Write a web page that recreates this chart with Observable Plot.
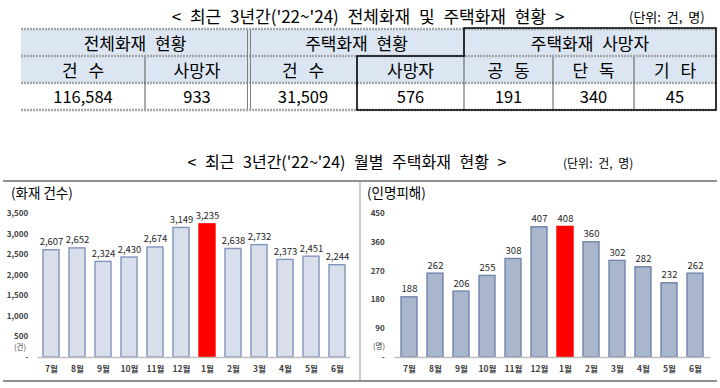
<!DOCTYPE html>
<html><head><meta charset="utf-8">
<script src="https://cdn.jsdelivr.net/npm/d3@7"></script>
<script src="https://cdn.jsdelivr.net/npm/@observablehq/plot@0.6"></script>
<style>
body{margin:0;width:720px;height:388px;position:relative;overflow:hidden;background:#fff;font-family:"Noto Sans CJK KR","Noto Sans",sans-serif;color:#000}
.t{position:absolute;white-space:nowrap;line-height:1}
.cell{position:absolute;display:flex;align-items:center;justify-content:center;font-size:16px;line-height:1;white-space:nowrap}
.chart{position:absolute;top:181px}
</style></head><body>
<script>
// ---- data ----
const months = ["7월","8월","9월","10월","11월","12월","1월","2월","3월","4월","5월","6월"];
const fireCounts = [2607,2652,2324,2430,2674,3149,3235,2638,2732,2373,2451,2244];
const casualties = [188,262,206,255,308,407,408,360,302,282,232,262];
const highlightMonth = "1월";
const countTicks = [0,500,1000,1500,2000,2500,3000,3500];
const casualtyTicks = [0,90,180,270,360,450];
const tableGroups = ["전체화재 현황","주택화재 현황","주택화재 사망자"];
const tableSubHeads = ["건 수","사망자","건 수","사망자","공 동","단 독","기 타"];
const tableValues = [116584,933,31509,576,191,340,45];

const fmt = d3.format(",");
const body = document.body;
function addText(txt, css, cls="t"){const d=document.createElement("div");d.className=cls;d.textContent=txt;Object.assign(d.style,css);body.appendChild(d);return d;}

// ---- titles ----
addText("< 최근 3년간('22~'24) 전체화재 및 주택화재 현황 >",{left:"368px",top:"15px",transform:"translate(-50%,-50%)",fontSize:"17px",wordSpacing:"5px"});
addText("(단위: 건, 명)",{left:"629px",top:"16px",transform:"translateY(-50%)",fontSize:"13px",wordSpacing:"3px"});

// ---- table ----
const colX=[21,145,249,357,464,553,634,716];
const rowY=[29,56,83,110];
const groupSpan=[[0,2],[2,4],[4,7]];
const ns="http://www.w3.org/2000/svg";
const tsvg=document.createElementNS(ns,"svg");
tsvg.setAttribute("width",720);tsvg.setAttribute("height",120);
Object.assign(tsvg.style,{position:"absolute",left:"0",top:"0"});
function el(name,attrs){const e=document.createElementNS(ns,name);for(const k in attrs)e.setAttribute(k,attrs[k]);tsvg.appendChild(e);return e;}
el("rect",{x:colX[0],y:rowY[0],width:colX[7]-colX[0],height:rowY[2]-rowY[0],fill:"#dce6f2"});
rowY.forEach(y=>el("line",{x1:colX[0],x2:colX[7],y1:y,y2:y,stroke:"#a6a6a6","stroke-width":2.5,"stroke-dasharray":"2,1"}));
[247.5,250.5].forEach(x=>el("line",{x1:x,x2:x,y1:rowY[0]+1,y2:rowY[3]-1,stroke:"#7f7f7f","stroke-width":1}));
[145,553,634].forEach(x=>el("line",{x1:x,x2:x,y1:rowY[1]+1,y2:rowY[3]-1,stroke:"#595959","stroke-width":1}));
el("line",{x1:464,x2:464,y1:rowY[1],y2:rowY[3],stroke:"#595959","stroke-width":1});
el("path",{d:`M464,28H716V110H357V56H464Z`,fill:"none",stroke:"#000","stroke-width":1.6});
body.appendChild(tsvg);
groupSpan.forEach(([a,b],i)=>addText(tableGroups[i],{left:colX[a]+"px",width:(colX[b]-colX[a])+"px",top:rowY[0]+"px",height:(rowY[1]-rowY[0])+"px",fontSize:"17px",wordSpacing:"5px"},"cell"));
tableSubHeads.forEach((s,i)=>addText(s,{left:colX[i]+"px",width:(colX[i+1]-colX[i])+"px",top:rowY[1]+"px",height:(rowY[2]-rowY[1])+"px",fontSize:"17px",wordSpacing:"7px"},"cell"));
tableValues.forEach((v,i)=>addText(fmt(v),{left:colX[i]+"px",width:(colX[i+1]-colX[i])+"px",top:rowY[2]+"px",height:(rowY[3]-rowY[2])+"px",fontSize:"16.5px"},"cell"));

// ---- second title ----
addText("< 최근 3년간('22~'24) 월별 주택화재 현황 >",{left:"347px",top:"161px",transform:"translate(-50%,-50%)",fontSize:"16px",wordSpacing:"5px"});
addText("(단위: 건, 명)",{left:"563px",top:"163px",transform:"translateY(-50%)",fontSize:"12px",wordSpacing:"3px"});

// ---- panel frame ----
const fsvg=document.createElementNS(ns,"svg");
fsvg.setAttribute("width",720);fsvg.setAttribute("height",388);
Object.assign(fsvg.style,{position:"absolute",left:"0",top:"0"});
[[3,717,181,181],[3,717,381,381],[360,360,181,381]].forEach(([x1,x2,y1,y2],i)=>{const e=document.createElementNS(ns,"line");e.setAttribute("x1",x1);e.setAttribute("x2",x2);e.setAttribute("y1",y1);e.setAttribute("y2",y2);e.setAttribute("stroke",i<2?"#6b6b6b":"#9a9a9a");e.setAttribute("stroke-width",i<2?1.6:1);fsvg.appendChild(e);});
body.appendChild(fsvg);

// ---- charts ----
function barChart({values, ticks, fill, stroke, marginLeft, marginRight}){
  const data = months.map((m,i)=>({month:m, value:values[i]}));
  return Plot.plot({
    width:357, height:200, marginTop:32, marginBottom:24, marginLeft, marginRight,
    style:{fontFamily:'"Noto Sans CJK KR","Noto Sans",sans-serif', background:"transparent", overflow:"visible", color:"#404040"},
    x:{domain:months, paddingInner:0.38, paddingOuter:0.19, label:null},
    y:{domain:[0, ticks[ticks.length-1]], label:null},
    color:{type:"identity"},
    marks:[
      Plot.axisY({ticks, tickSize:0, tickPadding:10, tickFormat:d=>d===0?"-":fmt(d), fontSize:8, fontWeight:"bold", fill:"#404040"}),
      Plot.axisX({tickSize:0, tickPadding:8, fontSize:8.5, fontWeight:"bold", fill:"#404040"}),
      Plot.barY(data,{x:"month", y:"value", fill:d=>d.month===highlightMonth?"#ff0000":fill, stroke:d=>d.month===highlightMonth?"#ff0000":stroke, strokeWidth:1.4}),
      Plot.ruleY([0],{stroke:"#bfbfbf", strokeWidth:1.5}),
      Plot.text(data,{x:"month", y:"value", text:d=>fmt(d.value), dy:-5, lineAnchor:"bottom", fontSize:9.5, letterSpacing:"-0.2px", fill:"#262626"})
    ]
  });
}
const left = barChart({values:fireCounts, ticks:countTicks, fill:"#d8dfea", stroke:"#8193bd", marginLeft:37.7, marginRight:7});
left.classList.add("chart"); left.style.left="0px"; body.appendChild(left);
const right = barChart({values:casualties, ticks:casualtyTicks, fill:"#aab6cb", stroke:"#7185ae", marginLeft:34.3, marginRight:6.3});
right.classList.add("chart"); right.style.left="360px"; body.appendChild(right);

addText("(화재 건수)",{left:"11px",top:"193px",transform:"translateY(-50%)",fontSize:"13.5px"});
addText("(인명피해)",{left:"367px",top:"193px",transform:"translateY(-50%)",fontSize:"13.5px"});
addText("(건)",{left:"20px",top:"347px",transform:"translate(-50%,-50%)",fontSize:"7.5px",color:"#404040"});
addText("(명)",{left:"379px",top:"346px",transform:"translate(-50%,-50%)",fontSize:"7.5px",color:"#404040"});
</script>
</body></html>
